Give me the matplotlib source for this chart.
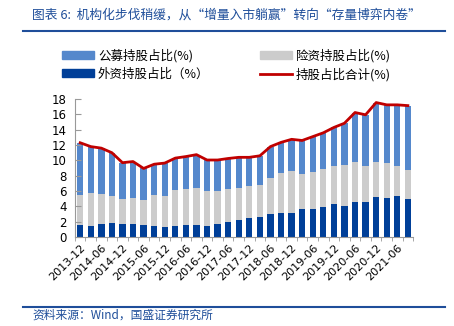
import matplotlib
matplotlib.use("Agg")
import matplotlib.pyplot as plt
import matplotlib.patches as mpatches
import matplotlib.lines as mlines
import numpy as np

plt.rcParams['font.family'] = ['Noto Sans CJK SC', 'DejaVu Sans']

##### data #####
quarters = ["2013-12", "2014-03", "2014-06", "2014-09", "2014-12", "2015-03", "2015-06", "2015-09",
            "2015-12", "2016-03", "2016-06", "2016-09", "2016-12", "2017-03", "2017-06", "2017-09",
            "2017-12", "2018-03", "2018-06", "2018-09", "2018-12", "2019-03", "2019-06", "2019-09",
            "2019-12", "2020-03", "2020-06", "2020-09", "2020-12", "2021-03", "2021-06", "2021-09"]

# 外资持股占比
foreign = [1.6, 1.5, 1.65, 1.8, 1.65, 1.75, 1.6, 1.45, 1.3, 1.5, 1.55, 1.6,
           1.5, 1.75, 1.95, 2.2, 2.5, 2.6, 3.05, 3.1, 3.15, 3.6, 3.6, 3.9,
           4.25, 4.0, 4.6, 4.6, 5.2, 5.15, 5.3, 4.95]
# 险资持股占比 (stacked segment)
insurance = [3.9, 4.3, 3.95, 3.5, 3.25, 3.3, 3.2, 4.0, 4.0, 4.65, 4.7, 4.85,
             4.55, 4.3, 4.3, 4.2, 4.1, 4.25, 4.65, 5.25, 5.45, 4.65, 4.95, 4.95,
             5.0, 5.45, 5.2, 4.65, 4.6, 4.5, 3.95, 3.85]
# 公募持股占比 (stacked segment)
fund = [6.8, 6.0, 6.0, 5.7, 4.8, 4.8, 4.15, 4.05, 4.35, 4.15, 4.25, 4.3,
        4.0, 4.0, 4.0, 4.0, 3.8, 3.75, 4.1, 4.0, 4.15, 4.35, 4.55, 4.75,
        5.05, 5.4, 6.45, 6.7, 7.75, 7.6, 8.0, 8.35]
total = [f + i + m for f, i, m in zip(foreign, insurance, fund)]

##### plotting #####
fig = plt.figure(figsize=(4.54, 3.26), dpi=100)
ax = fig.add_axes([0.165, 0.273, 0.745, 0.423])

x = np.arange(len(quarters))
c_fund = "#5588CC"
c_ins = "#CCCCCC"
c_for = "#003F98"
c_tot = "#C00000"

ax.bar(x, foreign, width=0.6, color=c_for)
ax.bar(x, insurance, width=0.6, bottom=foreign, color=c_ins)
ax.bar(x, fund, width=0.6, bottom=np.array(foreign) + np.array(insurance), color=c_fund)
ax.plot(x, total, color=c_tot, lw=2.0, solid_joinstyle="round")

ax.set_xlim(-0.5, len(quarters) - 0.5)
ax.set_ylim(0, 18)
ax.set_yticks(range(0, 19, 2))
ax.set_xticks(x[::2])
ax.set_xticklabels(quarters[::2], rotation=45, ha="right", rotation_mode="anchor",
                   fontsize=8, family="DejaVu Sans")
ax.set_xticks(np.arange(-0.5, len(quarters), 1), minor=True)
ax.tick_params(axis="x", which="major", length=0, pad=4)
ax.tick_params(axis="x", which="minor", length=3, direction="out", color="#999999")
ax.tick_params(axis="y", direction="in", length=4, color="#999999", labelsize=8.5, pad=6)
for lab in ax.get_yticklabels():
    lab.set_family("DejaVu Sans")
for s in ["top", "right"]:
    ax.spines[s].set_visible(False)
for s in ["left", "bottom"]:
    ax.spines[s].set_color("#999999")

##### legend #####
h_fund = mpatches.Patch(color=c_fund, label="公募持股占比(%)")
h_for = mpatches.Patch(color=c_for, label="外资持股占比（%）")
h_ins = mpatches.Patch(color=c_ins, label="险资持股占比(%)")
h_tot = mlines.Line2D([], [], color=c_tot, lw=2, label="持股占比合计(%)")
fig.legend(handles=[h_fund, h_for, h_ins, h_tot], ncol=2, loc="center left",
           bbox_to_anchor=(0.125, 0.800), frameon=False, fontsize=9,
           handlelength=2.6, handleheight=0.6, handletextpad=0.3,
           columnspacing=4.0, labelspacing=0.4, borderaxespad=0)

##### title and source #####
navy = "#1F4E9A"
fig.text(0.07, 0.953, "图表 6:  机构化步伐稍缓，从“增量入市躺赢”转向“存量博弈内卷”",
         fontsize=9.2, style="italic", color=navy, va="center")
fig.add_artist(mlines.Line2D([0.05, 0.98], [0.905, 0.905], color=navy, lw=1.5))
fig.add_artist(mlines.Line2D([0.05, 0.98], [0.059, 0.059], color=navy, lw=1.5))
fig.text(0.072, 0.033, "资料来源：Wind，国盛证券研究所", fontsize=8.5, style="italic",
         color=navy, va="center")

plt.savefig("out.png", dpi=100)
